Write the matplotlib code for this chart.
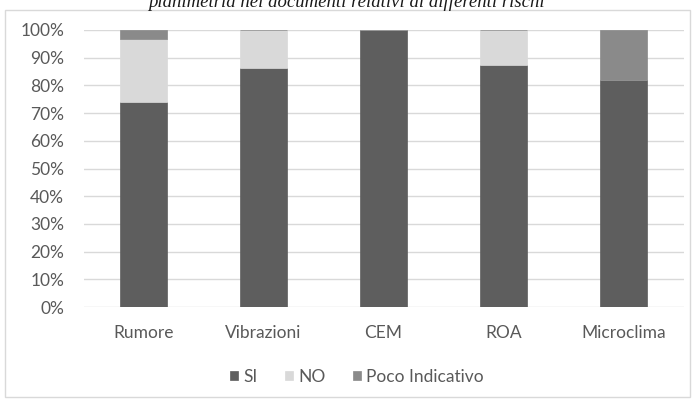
import matplotlib
matplotlib.use("Agg")
import matplotlib.pyplot as plt
from matplotlib.patches import Rectangle
from matplotlib.ticker import PercentFormatter
import numpy as np

categories = ["Rumore", "Vibrazioni", "CEM", "ROA", "Microclima"]
si = [74.0, 86.4, 100.0, 87.5, 81.8]
no = [22.6, 13.6, 0.0, 12.5, 0.0]
poco = [3.4, 0.0, 0.0, 0.0, 18.2]
series_names = ["SI", "NO", "Poco Indicativo"]
colors = ["#5e5e5e", "#d9d9d9", "#8a8a8a"]
title = "planimetria nei documenti relativi ai differenti rischi"

W, H = 692, 400
fig = plt.figure(figsize=(W / 100, H / 100), dpi=100)
fig.patch.set_facecolor("white")

# chart frame
fig.patches.append(Rectangle((5 / W, 1 - 397 / H), 685 / W, 387 / H,
                             transform=fig.transFigure, fill=False,
                             edgecolor="#d9d9d9", linewidth=1.0))

ax = fig.add_axes([83.5 / W, 1 - 307 / H, 600 / W, 277 / H])
x = np.arange(len(categories))
width = 0.39
bottom = np.zeros(len(categories))
for vals, name, c in zip([si, no, poco], series_names, colors):
    v = np.array(vals)
    ax.bar(x, v, width, bottom=bottom, color=c, label=name, zorder=3,
           edgecolor=c, linewidth=0.5)
    bottom += v

ax.set_xlim(-0.5, len(categories) - 0.5)
ax.set_ylim(0, 100)
ax.set_yticks(np.arange(0, 101, 10))
ax.yaxis.set_major_formatter(PercentFormatter(decimals=0))
ax.set_xticks(x)
ax.set_xticklabels(categories)
ax.grid(axis="y", color="#d9d9d9", linewidth=1.0, zorder=0)
for s in ax.spines.values():
    s.set_visible(False)
ax.tick_params(axis="both", length=0, labelsize=12.5, colors="#595959",
               labelfontfamily="Lato")
ax.tick_params(axis="x", pad=13)
ax.tick_params(axis="y", pad=14)

leg = fig.legend(loc="center", bbox_to_anchor=(357 / W, 1 - 377 / H),
                 ncol=3, frameon=False, handlelength=0.45, handleheight=0.45,
                 handletextpad=0.3, columnspacing=1.6,
                 prop={"family": "Lato", "size": 12.5})
for t in leg.get_texts():
    t.set_color("#595959")

# caption line running above the chart frame (only its lower part fits)
fig.text(346 / W, 1 - 7 / H, title, ha="center", va="baseline",
         family="Liberation Serif", style="italic", fontsize=13.5,
         color="#1a1a1a")

fig.savefig("out.png", dpi=100)
